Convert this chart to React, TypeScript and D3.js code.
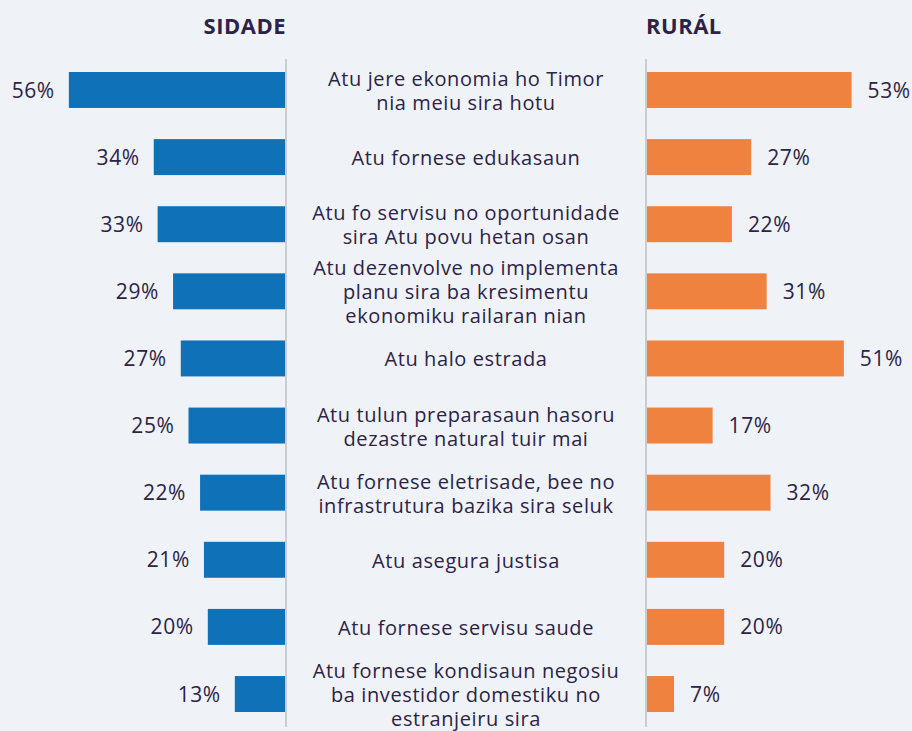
import * as d3 from "d3";

const categories: string[][] = [
  ["Atu jere ekonomia ho Timor", "nia meiu sira hotu"],
  ["Atu fornese edukasaun"],
  ["Atu fo servisu no oportunidade", "sira Atu povu hetan osan"],
  ["Atu dezenvolve no implementa", "planu sira ba kresimentu", "ekonomiku railaran nian"],
  ["Atu halo estrada"],
  ["Atu tulun preparasaun hasoru", "dezastre natural tuir mai"],
  ["Atu fornese eletrisade, bee no", "infrastrutura bazika sira seluk"],
  ["Atu asegura justisa"],
  ["Atu fornese servisu saude"],
  ["Atu fornese kondisaun negosiu", "ba investidor domestiku no", "estranjeiru sira"],
];
const sidade = [56, 34, 33, 29, 27, 25, 22, 21, 20, 13];
const rural = [53, 27, 22, 31, 51, 17, 32, 20, 20, 7];

const W = 912;
const H = 731;
const leftAxis = 286;
const rightAxis = 646;
const textColor = "#2c2346";
const font = "'Open Sans', sans-serif";

export default function App() {
  const ids = categories.map((_, i) => String(i));
  const y = d3.scaleBand<string>().domain(ids).range([72, 712]).paddingInner(0.464).paddingOuter(0);
  const x = d3.scaleLinear().domain([0, 100]).range([0, 386]);
  const bw = y.bandwidth();
  const lineH = 24;

  return (
    <div style={{ position: "absolute", left: 0, top: 0 }}>
      <svg width={W} height={H} style={{ display: "block", background: "#eff3f8" }}>
        <text x={leftAxis} y={34} textAnchor="end" fontFamily={font} fontWeight={700} fontSize={22} letterSpacing={0.5} fill={textColor}>
          SIDADE
        </text>
        <text x={rightAxis} y={34} textAnchor="start" fontFamily={font} fontWeight={700} fontSize={22} letterSpacing={0.5} fill={textColor}>
          RURÁL
        </text>

        <line x1={leftAxis} x2={leftAxis} y1={59} y2={727} stroke="#c9ccd2" strokeWidth={2} />
        <line x1={rightAxis} x2={rightAxis} y1={59} y2={727} stroke="#c9ccd2" strokeWidth={2} />

        {ids.map((id, i) => {
          const y0 = y(id)!;
          const cy = y0 + bw / 2;
          const lines = categories[i];
          const wl = x(sidade[i]);
          const wr = x(rural[i]);
          return (
            <g key={id}>
              <rect x={leftAxis - 1 - wl} y={y0} width={wl} height={bw} fill="#0f72b9" />
              <rect x={rightAxis + 1} y={y0} width={wr} height={bw} fill="#f08240" />
              <text x={leftAxis - 1 - wl - 14} y={cy} dy="0.36em" textAnchor="end" fontFamily={font} fontSize={21} letterSpacing={0.6} fill={textColor}>
                {sidade[i]}%
              </text>
              <text x={rightAxis + 1 + wr + 16} y={cy} dy="0.36em" textAnchor="start" fontFamily={font} fontSize={21} letterSpacing={0.6} fill={textColor}>
                {rural[i]}%
              </text>
              <text textAnchor="middle" fontFamily={font} fontSize={20} letterSpacing={0.6} fill={textColor}>
                {lines.map((l, j) => (
                  <tspan key={j} x={466} y={cy + 2 + (j - (lines.length - 1) / 2) * lineH} dy="0.3em">
                    {l}
                  </tspan>
                ))}
              </text>
            </g>
          );
        })}
      </svg>
    </div>
  );
}
